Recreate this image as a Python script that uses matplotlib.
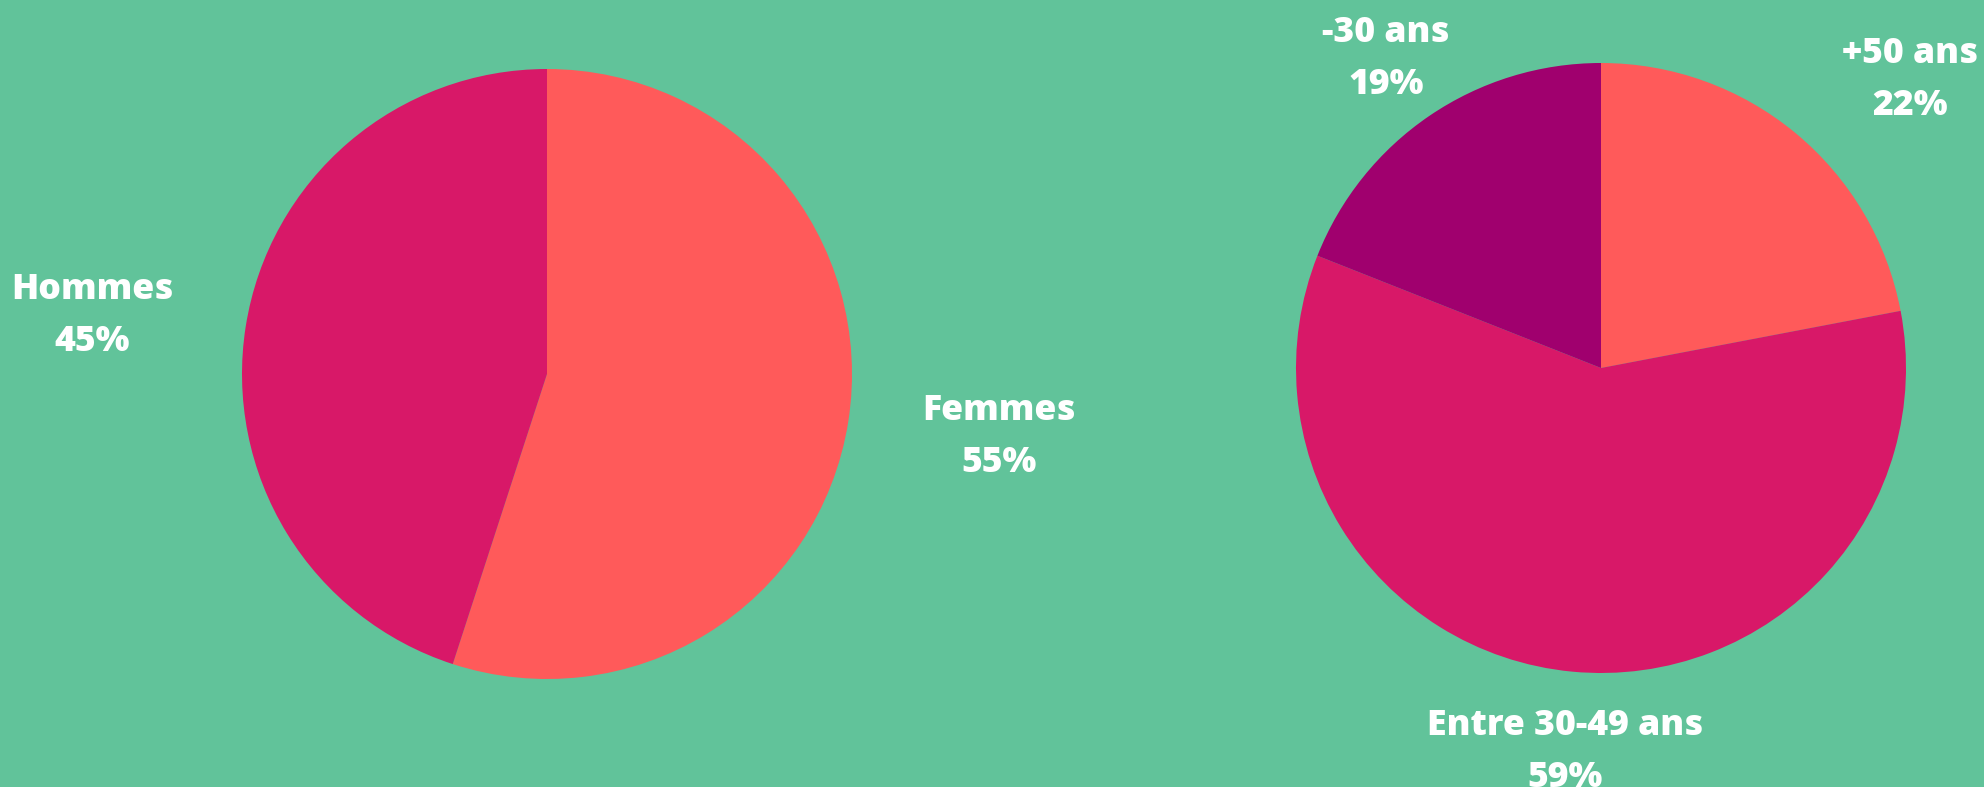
import matplotlib.pyplot as plt

# data
genre_labels = ['Femmes', 'Hommes']
genre_values = [55, 45]
genre_colors = ['#FF5A5A', '#D81868']

age_labels = ['+50 ans', 'Entre 30-49 ans', '-30 ans']
age_values = [22, 59, 19]
age_colors = ['#FF5A5A', '#D81868', '#A0006E']

bg = '#61C39A'
W, H = 1984, 787

fig = plt.figure(figsize=(W / 100, H / 100), dpi=100, facecolor=bg)
ax = fig.add_axes([0, 0, 1, 1])
ax.set_facecolor(bg)

# pies (pixel space, y from bottom)
ax.pie(genre_values, colors=genre_colors, startangle=90, counterclock=False,
       center=(547, H - 374), radius=305, frame=True)
ax.pie(age_values, colors=age_colors, startangle=90, counterclock=False,
       center=(1601, H - 368), radius=305, frame=True)
ax.set_xlim(0, W)
ax.set_ylim(0, H)
ax.set_aspect('equal')
ax.axis('off')

txt = dict(color='white', fontsize=25.7, fontweight='heavy', family='Open Sans',
           ha='center', va='center', linespacing=1.6)

def lab(x, y, name, val):
    ax.text(x, H - y, f'{name}\n{val}%', **txt)

lab(999, 437, genre_labels[0], genre_values[0])
lab(92, 316, genre_labels[1], genre_values[1])
lab(1910, 80, age_labels[0], age_values[0])
lab(1565, 752, age_labels[1], age_values[1])
lab(1386, 59, age_labels[2], age_values[2])

fig.savefig('out.png', dpi=100, facecolor=bg)
